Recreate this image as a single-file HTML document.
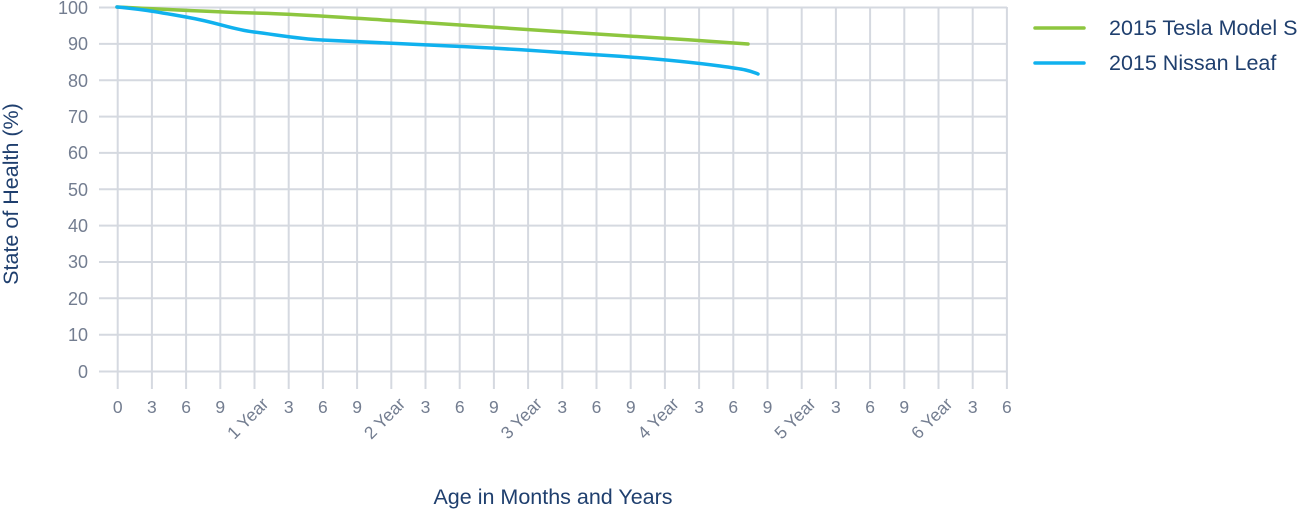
<!DOCTYPE html>
<html><head><style>body{margin:0;background:#fff;}svg{display:block;font-family:"Liberation Sans",sans-serif;}</style></head>
<body>
<svg width="1300" height="510" xmlns="http://www.w3.org/2000/svg">
<g stroke="#d5d9e0" stroke-width="2" fill="none">
<path d="M99 7.5H1007M99 43.9H1007M99 80.2H1007M99 116.6H1007M99 152.9H1007M99 189.3H1007M99 225.6H1007M99 262H1007M99 298.3H1007M99 334.7H1007M99 371.5H1007"/>
</g>
<g id="v" stroke="#d5d9e0" stroke-width="2"></g>
<g id="xl" fill="#737d90" font-size="17.5"></g>
<g fill="#737d90" font-size="18" text-anchor="end">
<text x="88" y="14">100</text><text x="88" y="50">90</text><text x="88" y="87">80</text><text x="88" y="123">70</text><text x="88" y="159">60</text><text x="88" y="196">50</text><text x="88" y="232">40</text><text x="88" y="268">30</text><text x="88" y="305">20</text><text x="88" y="341">10</text><text x="88" y="378">0</text>
</g>
<text transform="translate(18,194) rotate(-90)" text-anchor="middle" fill="#1f3f6e" font-size="21.5">State of Health (%)</text>
<text x="553" y="504" text-anchor="middle" fill="#1f3f6e" font-size="21.5">Age in Months and Years</text>
<path d="M117 7 C180 10 210 12 254 13 S350 18 400 21 S500 28 550 31 S680 39 748 44" stroke="#8dc63f" stroke-width="3.5" fill="none" stroke-linecap="round"/>
<path d="M117 7 C140 9 152 11 186 17 S230 29 254 32 S300 39 322 40 S380 43 450 46 S550 52 600 55 S690 62 720 66 S750 71 758 74" stroke="#10b1ee" stroke-width="3.5" fill="none" stroke-linecap="round"/>
<line x1="1035" y1="28" x2="1084" y2="28" stroke="#8dc63f" stroke-width="3.5" stroke-linecap="round"/>
<line x1="1035" y1="63" x2="1084" y2="63" stroke="#10b1ee" stroke-width="3.5" stroke-linecap="round"/>
<text x="1109" y="35" fill="#1f3f6e" font-size="21.5">2015 Tesla Model S</text>
<text x="1109" y="70" fill="#1f3f6e" font-size="21.5">2015 Nissan Leaf</text>
<script>
var v=document.getElementById('v'),xl=document.getElementById('xl'),ns='http://www.w3.org/2000/svg';
var labs=['0','3','6','9','1 Year','3','6','9','2 Year','3','6','9','3 Year','3','6','9','4 Year','3','6','9','5 Year','3','6','9','6 Year','3','6'];
for(var i=0;i<27;i++){var x=117.7+i*34.2;var l=document.createElementNS(ns,'line');l.setAttribute('x1',x);l.setAttribute('x2',x);l.setAttribute('y1',7);l.setAttribute('y2',389);v.appendChild(l);
var t=document.createElementNS(ns,'text');t.textContent=labs[i];
if(labs[i].length>1){t.setAttribute('text-anchor','end');t.setAttribute('transform','translate('+(x+15)+',405) rotate(-45)');}
else{t.setAttribute('x',x);t.setAttribute('y',413);t.setAttribute('text-anchor','middle');}
xl.appendChild(t);}
</script>
</svg>
</body></html>
